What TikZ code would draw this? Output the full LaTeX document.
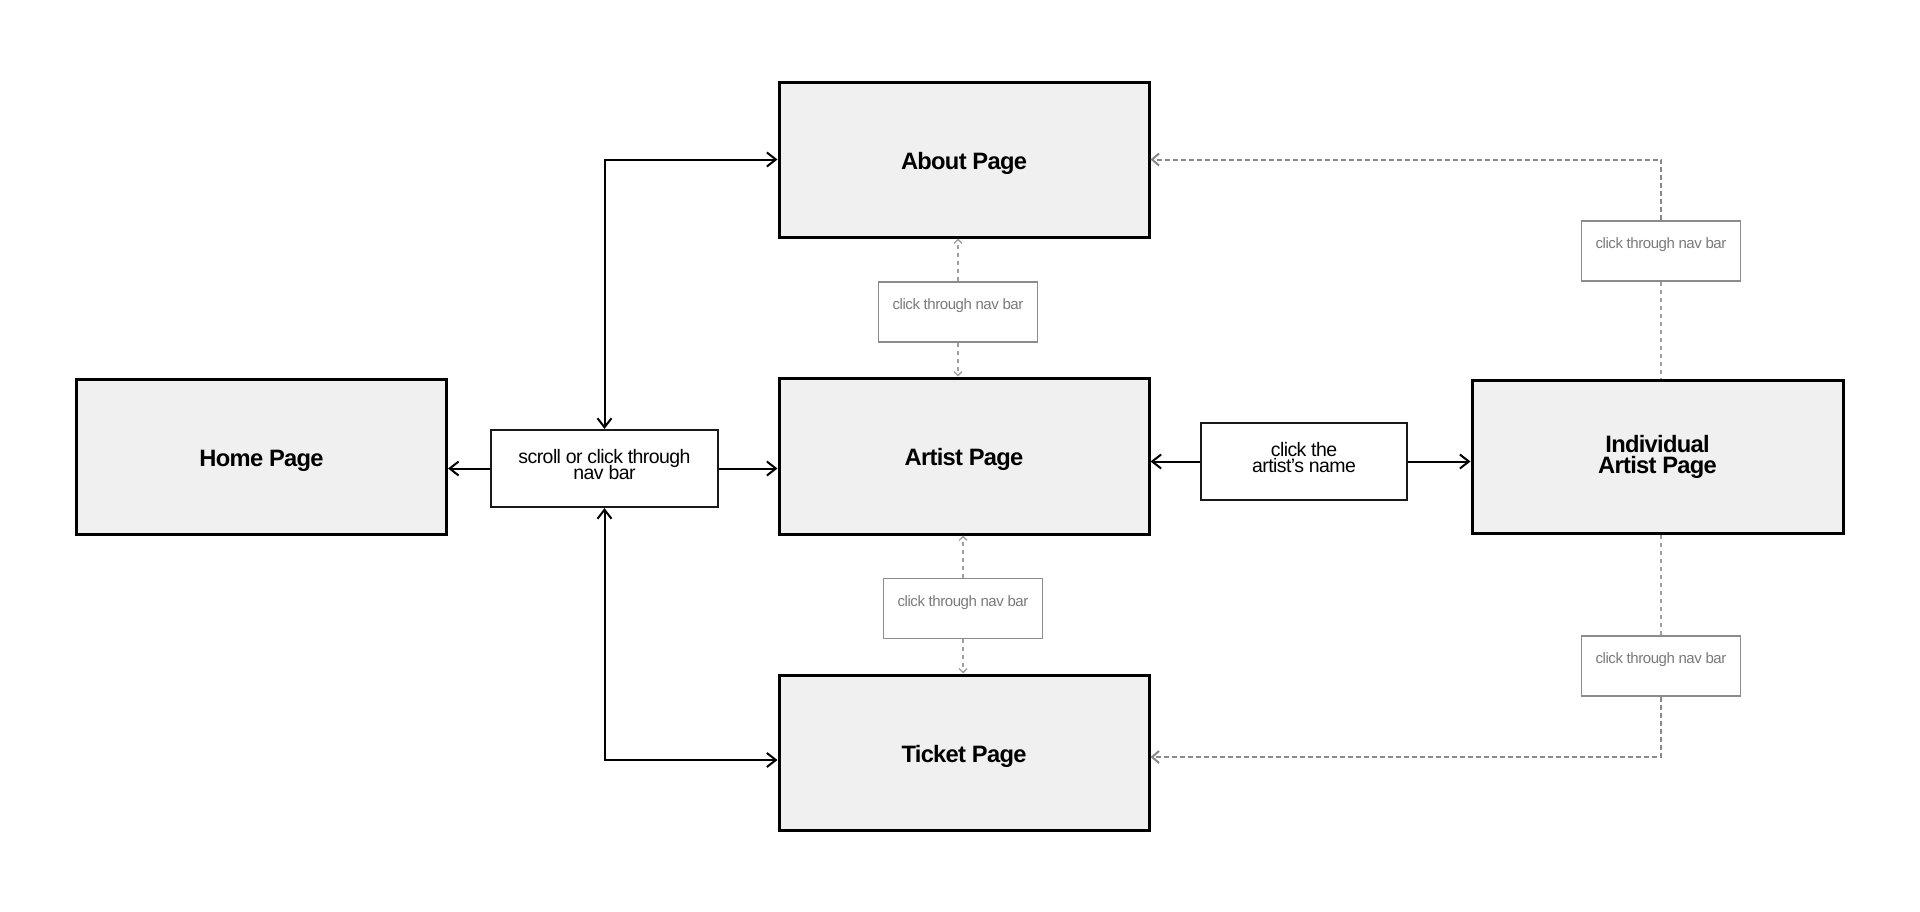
\documentclass[tikz,border=0pt]{standalone}
\usepackage{fontspec}
\setmainfont{Liberation Sans}[LetterSpace=-3]
\usetikzlibrary{arrows.meta,calc}
\definecolor{boxfill}{HTML}{F0F0F0}
\definecolor{navgrey}{HTML}{8C8C8C}
\definecolor{navtext}{HTML}{7A7A7A}
\definecolor{dashgrey}{HTML}{888888}
\lineskiplimit=-30pt
\lineskip=0pt
\begin{document}
\begin{tikzpicture}[x=1pt,y=-1pt,
  pagebox/.style={draw=black, line width=3pt, fill=boxfill, minimum width=370pt,
    minimum height=155pt, inner sep=0pt, align=center,
    font=\fontsize{23.7pt}{21pt}\selectfont\bfseries},
  onetitle/.style={text height=20pt, text depth=1pt},
  linkbox/.style={draw=black!90, line width=2.2pt, fill=white, inner sep=0pt,
    align=center, text depth=8pt, font=\fontsize{19.5pt}{16pt}\selectfont},
  navbox/.style={draw=navgrey, line width=1.8pt, fill=white, inner sep=0pt,
    minimum width=159pt, text=navtext, font=\fontsize{15pt}{15pt}\selectfont,
    text height=27.5pt, text depth=32.5pt},
  solidarrow/.style={draw=black, line width=2pt,
    -{Straight Barb[length=9pt,width=14pt]}},
  dashlink/.style={draw=dashgrey, line width=2pt, dash pattern=on 5pt off 3pt},
  thindash/.style={draw=dashgrey!80, line width=1.3pt, dash pattern=on 4pt off 4pt},
  greytip/.style={-{Straight Barb[length=7pt,width=12pt]}},
  smalltip/.style={-{Straight Barb[length=4pt,width=8pt]}}
]
\fill[white] (0,0) rectangle (1920,911);
\useasboundingbox (0,0) rectangle (1920,911);

% main pages
\node[pagebox, onetitle] (home)   at (261.5,457)   {Home Page};
\node[pagebox, onetitle] (about)  at (964,159.5)   {About Page};
\node[pagebox, onetitle, minimum height=156pt] (artist) at (964,456) {Artist Page};
\node[pagebox, onetitle] (ticket) at (964,752.5)   {Ticket Page};
\node[pagebox, minimum width=371pt, minimum height=153pt] (indiv) at (1657.5,456.5) {Individual\\Artist Page};

% link boxes
\node[linkbox, minimum width=227pt, minimum height=77pt] (scroll) at (604.5,468.5)
  {scroll or click through\\nav bar};
\node[linkbox, minimum width=206pt, minimum height=77pt] (click) at (1304,461.5)
  {click the\\artist’s name};

% nav bar boxes
\node[navbox] (nbA) at (958,312)   {click through nav bar};
\node[navbox] (nbB) at (963,608.5) {click through nav bar};
\node[navbox] (nbC) at (1661,251)  {click through nav bar};
\node[navbox] (nbD) at (1661,666)  {click through nav bar};

% solid connectors
\draw[solidarrow] (scroll.west) -- (scroll.west -| home.east);
\draw[solidarrow] (scroll.east) -- (scroll.east -| artist.west);
\draw[solidarrow, {Straight Barb[length=9pt,width=14pt]}-{Straight Barb[length=9pt,width=14pt]}]
  (scroll.north) |- (about.west);
\draw[solidarrow, {Straight Barb[length=9pt,width=14pt]}-{Straight Barb[length=9pt,width=14pt]}]
  (scroll.south) |- ([yshift=-7.5pt]ticket.west);
\draw[solidarrow] (click.west) -- (click.west -| artist.east);
\draw[solidarrow] (click.east) -- (click.east -| indiv.west);

% middle dashed connectors
\draw[thindash, smalltip] (nbA.north) -- (nbA.north |- about.south);
\draw[thindash, smalltip] (nbA.south) -- (nbA.south |- artist.north);
\draw[thindash, smalltip] (nbB.north) -- (nbB.north |- artist.south);
\draw[thindash, smalltip] (nbB.south) -- (nbB.south |- ticket.north);

% right dashed connectors
\draw[thindash] (nbC.south) -- (nbC.south |- indiv.north);
\draw[dashlink, greytip] (nbC.north) |- (about.east);
\draw[thindash] (nbD.north) -- (nbD.north |- indiv.south);
\draw[dashlink, greytip] (nbD.south) |- ([yshift=-4.5pt]ticket.east);
\end{tikzpicture}
\end{document}
